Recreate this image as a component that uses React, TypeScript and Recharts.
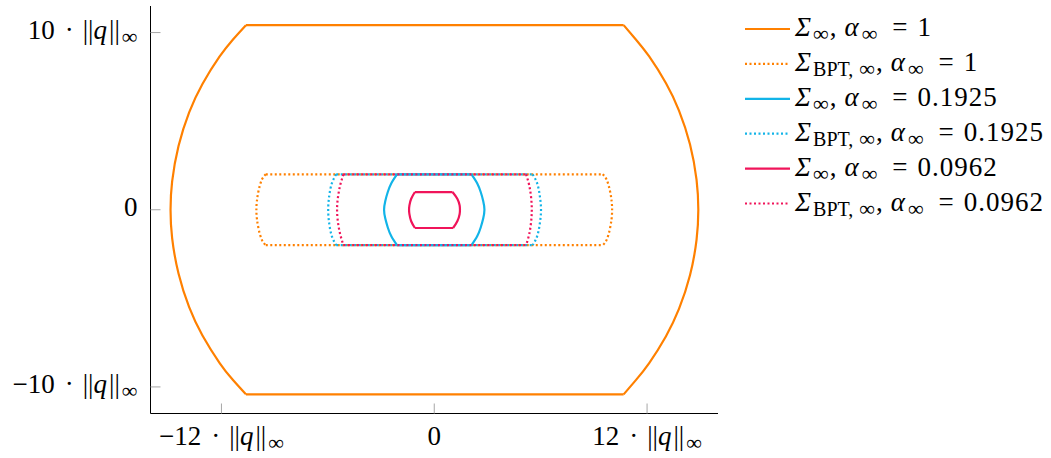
import React from 'react';
import { ComposedChart, Line, XAxis, YAxis, Legend } from 'recharts';

const ORANGE = '#ff8000';
const CYAN = '#12b4e8';
const RED = '#f0145a';
const FONT = 'Liberation Serif, Times New Roman, DejaVu Serif, serif';

// Each shape: right arc (top to bottom) and left arc (top to bottom); flats join the arc ends.
// Σ∞, α∞ = 1
const s1Right: number[][] = [
  [10.68, 10.42], [11.38, 9.6], [12.12, 8.65], [13.06, 7.15], [13.8, 5.6], [14.42, 3.7], [14.79, 1.7], [14.89, 0],
  [14.79, -1.7], [14.42, -3.7], [13.8, -5.6], [13.06, -7.15], [12.12, -8.65], [11.38, -9.6], [10.68, -10.42],
];
const s1Left: number[][] = [
  [-10.62, 10.42], [-11.36, 9.6], [-12.1, 8.65], [-13.07, 7.1], [-13.82, 5.5], [-14.42, 3.6], [-14.78, 1.6], [-14.87, 0],
  [-14.78, -1.6], [-14.42, -3.6], [-13.82, -5.5], [-13.07, -7.1], [-12.1, -8.65], [-11.36, -9.6], [-10.62, -10.42],
];
// ΣBPT,∞, α∞ = 1
const s2Right: number[][] = [
  [9.5, 2], [9.72, 1.7], [9.9, 1.1], [10.0, 0.5], [10.03, 0], [10.0, -0.5], [9.9, -1.1], [9.72, -1.7], [9.5, -2],
];
const s2Left: number[][] = [
  [-9.5, 2], [-9.72, 1.7], [-9.9, 1.1], [-10.0, 0.5], [-10.03, 0], [-10.0, -0.5], [-9.9, -1.1], [-9.72, -1.7], [-9.5, -2],
];
// Σ∞, α∞ = 0.1925
const s3Right: number[][] = [
  [2.1, 2], [2.42, 1.5], [2.62, 1.0], [2.76, 0.5], [2.83, 0], [2.76, -0.5], [2.62, -1.0], [2.42, -1.5], [2.1, -2],
];
const s3Left: number[][] = [
  [-2.1, 2], [-2.42, 1.5], [-2.62, 1.0], [-2.76, 0.5], [-2.83, 0], [-2.76, -0.5], [-2.62, -1.0], [-2.42, -1.5], [-2.1, -2],
];
// ΣBPT,∞, α∞ = 0.1925
const s4Right: number[][] = [
  [5.55, 2], [5.8, 1.5], [5.95, 0.8], [6.02, 0], [5.95, -0.8], [5.8, -1.5], [5.55, -2],
];
const s4Left: number[][] = [
  [-5.53, 2], [-5.77, 1.5], [-5.92, 0.8], [-5.98, 0], [-5.92, -0.8], [-5.77, -1.5], [-5.53, -2],
];
// Σ∞, α∞ = 0.0962
const s5Right: number[][] = [
  [1.03, 1.0], [1.3, 0.62], [1.43, 0.25], [1.45, 0], [1.43, -0.25], [1.3, -0.65], [1.06, -1.03],
];
const s5Left: number[][] = [
  [-1.09, 1.0], [-1.3, 0.62], [-1.4, 0.25], [-1.42, 0], [-1.4, -0.25], [-1.3, -0.65], [-1.09, -1.03],
];
// ΣBPT,∞, α∞ = 0.0962
const s6Right: number[][] = [
  [5.18, 2], [5.35, 1.4], [5.46, 0.7], [5.5, 0], [5.46, -0.7], [5.35, -1.4], [5.18, -2],
];
const s6Left: number[][] = [
  [-5.12, 2], [-5.3, 1.4], [-5.43, 0.7], [-5.48, 0], [-5.43, -0.7], [-5.3, -1.4], [-5.12, -2],
];

const xTicks = [-12, 0, 12];
const yTicks = [-10, 0, 10];

const toPts = (a: number[][]) => a.map(([x, y]) => ({ x, y }));

const series = [
  { key: 's1', right: s1Right, left: s1Left, color: ORANGE, dotted: false, bpt: false, alpha: '1' },
  { key: 's2', right: s2Right, left: s2Left, color: ORANGE, dotted: true, bpt: true, alpha: '1' },
  { key: 's3', right: s3Right, left: s3Left, color: CYAN, dotted: false, bpt: false, alpha: '0.1925' },
  { key: 's4', right: s4Right, left: s4Left, color: CYAN, dotted: true, bpt: true, alpha: '0.1925' },
  { key: 's5', right: s5Right, left: s5Left, color: RED, dotted: false, bpt: false, alpha: '0.0962' },
  { key: 's6', right: s6Right, left: s6Left, color: RED, dotted: true, bpt: true, alpha: '0.0962' },
];

const DOT_DASH = '2 2.5';
const FS = 27;
const INF = 22;

const NormLabel = ({ v, ...rest }: any) => {
  if (v === 0) return <text {...rest}>0</text>;
  const num = v < 0 ? `\u2212${Math.abs(v)}` : `${v}`;
  return (
    <text {...rest}>
      <tspan>{num}</tspan>
      <tspan dx={10}>·</tspan>
      <tspan dx={9}>||</tspan>
      <tspan fontStyle="italic">q</tspan>
      <tspan dx={2}>||</tspan>
      <tspan fontSize={INF} dy={5} dx={2}>∞</tspan>
    </text>
  );
};

const XTick = (props: any) => {
  const { x, y, payload } = props;
  return (
    <g>
      <line x1={x} x2={x} y1={y} y2={y - 10} stroke="#a6a6a6" strokeWidth={1} />
      <NormLabel v={payload.value} x={x} y={y + 31} textAnchor="middle" fontFamily={FONT} fontSize={FS} fill="#000" />
    </g>
  );
};

const YTick = (props: any) => {
  const { x, y, payload } = props;
  return (
    <g>
      <line x1={x} x2={x + 10} y1={y} y2={y} stroke="#a6a6a6" strokeWidth={1} />
      <NormLabel v={payload.value} x={x - 13} y={y + 6} textAnchor="end" fontFamily={FONT} fontSize={FS} fill="#000" />
    </g>
  );
};

const renderLegend = () => (
  <svg width={311} height={230} style={{ overflow: 'visible' }}>
    {series.map((s, i) => {
      const ly = 29 + 34.9 * i;
      return (
        <g key={s.key}>
          <line x1={5} x2={50} y1={ly} y2={ly} stroke={s.color} strokeWidth={2.2} strokeDasharray={s.dotted ? DOT_DASH : undefined} />
          <text x={55} y={ly + 7} fontFamily={FONT} fontSize={FS} fill="#000">
            <tspan fontStyle="italic">Σ</tspan>
            {s.bpt ? (
              <>
                <tspan fontSize={20} dy={5} dx={2}>BPT,</tspan>
                <tspan fontSize={INF} dx={6}>∞</tspan>
              </>
            ) : (
              <tspan fontSize={INF} dy={5} dx={2}>∞</tspan>
            )}
            <tspan dy={-5} dx={1}>,</tspan>
            <tspan fontStyle="italic" dx={8}>α</tspan>
            <tspan fontSize={INF} dy={5} dx={3}>∞</tspan>
            <tspan dy={-5} dx={15}>=</tspan>
            <tspan dx={10} letterSpacing={1}>{s.alpha}</tspan>
          </text>
        </g>
      );
    })}
  </svg>
);

export default function App() {
  const lines: any[] = [];
  series.forEach((s) => {
    const dash = s.dotted ? DOT_DASH : undefined;
    const top = [s.left[0], s.right[0]];
    const bottom = [s.left[s.left.length - 1], s.right[s.right.length - 1]];
    const parts = [
      { id: 'top', d: top, t: 'linear' },
      { id: 'right', d: s.right, t: 'natural' },
      { id: 'bottom', d: bottom, t: 'linear' },
      { id: 'left', d: s.left, t: 'natural' },
    ];
    parts.forEach((p) => {
      lines.push(
        <Line
          key={`${s.key}-${p.id}`}
          data={toPts(p.d)}
          dataKey="y"
          type={p.t as any}
          stroke={s.color}
          strokeWidth={2.2}
          strokeDasharray={dash}
          dot={false}
          activeDot={false}
          isAnimationActive={false}
          strokeLinejoin="round"
          legendType="none"
        />
      );
    });
  });

  return (
    <div style={{ position: 'absolute', left: 0, top: 0, width: 1051, height: 458, background: '#fff' }}>
      <ComposedChart width={1051} height={458} margin={{ top: 6, right: 333, bottom: 0, left: 0 }}>
        <XAxis
          type="number"
          dataKey="x"
          domain={[-16, 16]}
          ticks={xTicks}
          allowDataOverflow
          height={44.5}
          tickSize={0}
          tickMargin={0}
          tickLine={false}
          axisLine={{ stroke: '#000', strokeWidth: 1 }}
          tick={<XTick />}
          interval={0}
        />
        <YAxis
          type="number"
          dataKey="y"
          domain={[-11.5, 11.5]}
          ticks={yTicks}
          allowDataOverflow
          width={150.5}
          tickSize={0}
          tickMargin={0}
          tickLine={false}
          axisLine={{ stroke: '#000', strokeWidth: 1 }}
          tick={<YTick />}
          interval={0}
        />
        {lines}
        <Legend
          content={renderLegend}
          layout="vertical"
          align="center"
          verticalAlign="middle"
          wrapperStyle={{ left: 740, top: 0, width: 311, height: 230 }}
        />
      </ComposedChart>
    </div>
  );
}
